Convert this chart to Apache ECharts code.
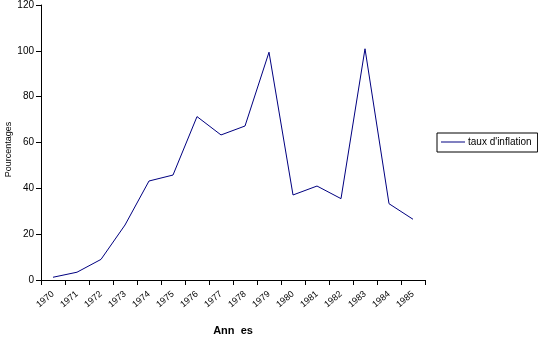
<!DOCTYPE html>
<html><head><meta charset="utf-8">
<script src="https://cdn.jsdelivr.net/npm/echarts@6/dist/echarts.min.js"></script>
<style>html,body{margin:0;padding:0;background:#fff}#c{width:538px;height:337px}</style>
</head><body><div id="c"></div>
<script>
const years = ['1970','1971','1972','1973','1974','1975','1976','1977','1978','1979','1980','1981','1982','1983','1984','1985'];
const inflation = [1.2, 3.4, 9.0, 24.0, 43.2, 45.8, 71.3, 63.3, 67.2, 99.4, 37.1, 41.0, 35.5, 100.9, 33.3, 26.5];
const seriesName = 'taux d\'inflation';
const yTicks = {min: 0, max: 120, interval: 20};

const chart = echarts.init(document.getElementById('c'), null, {renderer: 'canvas'});
chart.setOption({
  animation: false,
  backgroundColor: '#fff',
  grid: {left: 41, top: 5, right: 113, bottom: 57, containLabel: false, outerBoundsMode: 'none'},
  legend: {
    show: true, orient: 'vertical', left: 437, top: 133,
    width: 98, height: 20,
    padding: [4, 6, 5, 4],
    borderColor: '#000', borderWidth: 1,
    itemWidth: 24, itemHeight: 10, itemGap: 0,
    icon: 'path://M0,5L24,5L24,6L0,6Z',
    textStyle: {fontFamily: 'Liberation Sans, Arial', fontSize: 10, color: '#000', padding: [0,0,0,-2]},
    data: [{name: seriesName, itemStyle: {color: '#000080'}}]
  },
  xAxis: {
    type: 'category', data: years, boundaryGap: true,
    name: 'Ann  es', nameLocation: 'middle', nameGap: 45, nameMoveOverlap: false,
    nameTextStyle: {fontFamily: 'Liberation Sans, Arial', fontSize: 11, fontWeight: 'bold', color: '#000'},
    axisLine: {lineStyle: {color: '#000', width: 1}},
    axisTick: {show: true, alignWithLabel: false, length: 5, lineStyle: {color: '#000'}},
    axisLabel: {rotate: 40, fontFamily: 'Liberation Sans, Arial', fontSize: 9, color: '#000', margin: 13, interval: 0},
    splitLine: {show: false}
  },
  yAxis: {
    type: 'value', min: yTicks.min, max: yTicks.max, interval: yTicks.interval,
    name: 'Pourcentages', nameLocation: 'middle', nameGap: 28, nameRotate: 90, nameMoveOverlap: false,
    nameTextStyle: {fontFamily: 'Liberation Sans, Arial', fontSize: 9, color: '#000', padding: [0, 14, 0, 0]},
    axisLine: {show: true, lineStyle: {color: '#000', width: 1}},
    axisTick: {show: true, length: 5, lineStyle: {color: '#000'}},
    axisLabel: {fontFamily: 'Liberation Sans, Arial', fontSize: 10, color: '#000', margin: 7},
    splitLine: {show: false}
  },
  series: [{
    name: seriesName, type: 'line', data: inflation,
    symbol: 'none', lineStyle: {color: '#000080', width: 1}, itemStyle: {color: '#000080'}
  }]
});
</script></body></html>
